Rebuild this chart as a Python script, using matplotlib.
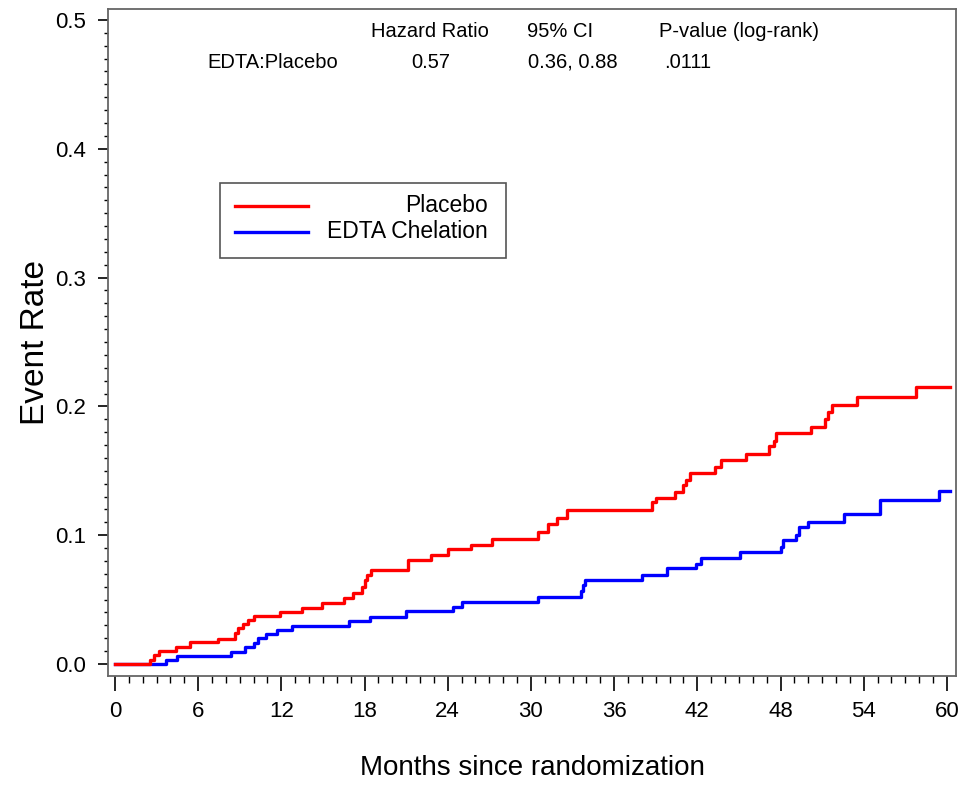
import numpy as np
import matplotlib.pyplot as plt
from matplotlib.patches import Rectangle
from matplotlib.ticker import MultipleLocator

plt.rcParams['font.family'] = ['Liberation Sans', 'DejaVu Sans']
plt.rcParams['font.size'] = 14

# step curves (event time in months, cumulative event rate after that time)
placebo_t = [0, 2.5, 2.8, 3.2, 4.4, 5.4, 7.4, 8.65, 8.9, 9.2, 9.6, 10.0, 11.9, 13.5,
             14.9, 16.5, 17.2, 17.8, 18.0, 18.2, 18.5, 21.1, 22.8, 24.0, 25.7, 27.2,
             30.5, 31.2, 31.9, 32.6, 38.7, 39.0, 40.4, 41.0, 41.2, 41.5, 43.3, 43.7,
             45.5, 47.2, 47.5, 47.7, 50.2, 51.2, 51.4, 51.7, 53.5, 57.8, 60.2]
placebo_r = [0, 0.003, 0.007, 0.0103, 0.013, 0.0168, 0.0194, 0.024, 0.028, 0.031,
             0.034, 0.037, 0.0402, 0.0435, 0.047, 0.051, 0.055, 0.060, 0.065, 0.069,
             0.073, 0.0807, 0.0846, 0.089, 0.0924, 0.097, 0.1027, 0.109, 0.113, 0.1196,
             0.126, 0.1286, 0.1338, 0.139, 0.1429, 0.148, 0.1527, 0.158, 0.163, 0.169,
             0.173, 0.179, 0.184, 0.190, 0.196, 0.201, 0.2075, 0.2148, 0.2148]

edta_t = [0, 3.7, 4.5, 8.4, 9.4, 10.0, 10.3, 10.9, 11.7, 12.8, 16.9, 18.4, 21.0, 24.4,
          25.0, 30.5, 33.6, 33.75, 33.9, 38.0, 39.8, 41.9, 42.3, 45.1, 48.0, 48.2,
          49.1, 49.3, 50.0, 52.6, 55.2, 59.4, 60.2]
edta_r = [0, 0.003, 0.0065, 0.0096, 0.013, 0.0166, 0.020, 0.0235, 0.0264, 0.0298,
          0.0332, 0.0365, 0.0408, 0.0445, 0.0484, 0.0523, 0.057, 0.061, 0.065, 0.069,
          0.0743, 0.078, 0.082, 0.087, 0.091, 0.096, 0.100, 0.106, 0.1105, 0.1165,
          0.127, 0.134, 0.134]

header = ['Hazard Ratio', '95% CI', 'P-value (log-rank)']
row = ['EDTA:Placebo', '0.57', '0.36, 0.88', '.0111']
labels = ['Placebo', 'EDTA Chelation']
colors = ['#ff0000', '#0000ff']

fig = plt.figure(figsize=(9.69, 7.85), dpi=100)
ax = fig.add_axes([0.1115, 0.1389, 0.875, 0.8496])

ax.step(edta_t, edta_r, where='post', color=colors[1], lw=2.4)
ax.step(placebo_t, placebo_r, where='post', color=colors[0], lw=2.4)

ax.set_xlim(-0.5, 60.65)
ax.set_ylim(-0.0093, 0.5085)
ax.xaxis.set_major_locator(MultipleLocator(6))
ax.xaxis.set_minor_locator(MultipleLocator(1))
ax.yaxis.set_major_locator(MultipleLocator(0.1))
ax.yaxis.set_minor_locator(MultipleLocator(0.01))
ax.yaxis.set_major_formatter(lambda v, p: f'{v:.1f}')
ax.tick_params(axis='x', which='major', length=11, width=1.2, pad=7, labelsize=16)
ax.tick_params(axis='x', which='minor', length=5, width=1)
ax.tick_params(axis='y', which='major', length=7, width=1.2, pad=9, labelsize=16)
ax.tick_params(axis='y', which='minor', length=3, width=1)
for s in ax.spines.values():
    s.set_color('#666666')
    s.set_linewidth(1.3)

ax.set_xlabel('Months since randomization', fontsize=20, labelpad=24)
ax.set_ylabel('Event Rate', fontsize=24, labelpad=3)

# table text at the top
hx = [22.7, 32.1, 45.0]
for x, s in zip(hx, header):
    ax.text(x, 0.4907, s, ha='center', va='center', fontsize=14.5)
rx = [11.4, 22.8, 33.0, 41.3]
for x, s in zip(rx, row):
    ax.text(x, 0.467, s, ha='center', va='center', fontsize=14.5)

# legend box with right-aligned labels
ax.add_patch(Rectangle((0.132, 0.627), 0.337, 0.112, transform=ax.transAxes,
                       fill=False, ec='#555555', lw=1.2))
for i, (lab, c) in enumerate(zip(labels, colors)):
    y = 0.705 - i * 0.039
    ax.plot([0.150, 0.236], [y, y], color=c, lw=2.4, transform=ax.transAxes)
    ax.text(0.448, y, lab, ha='right', va='center', fontsize=16.5, transform=ax.transAxes)

plt.savefig('out.png', dpi=100)
